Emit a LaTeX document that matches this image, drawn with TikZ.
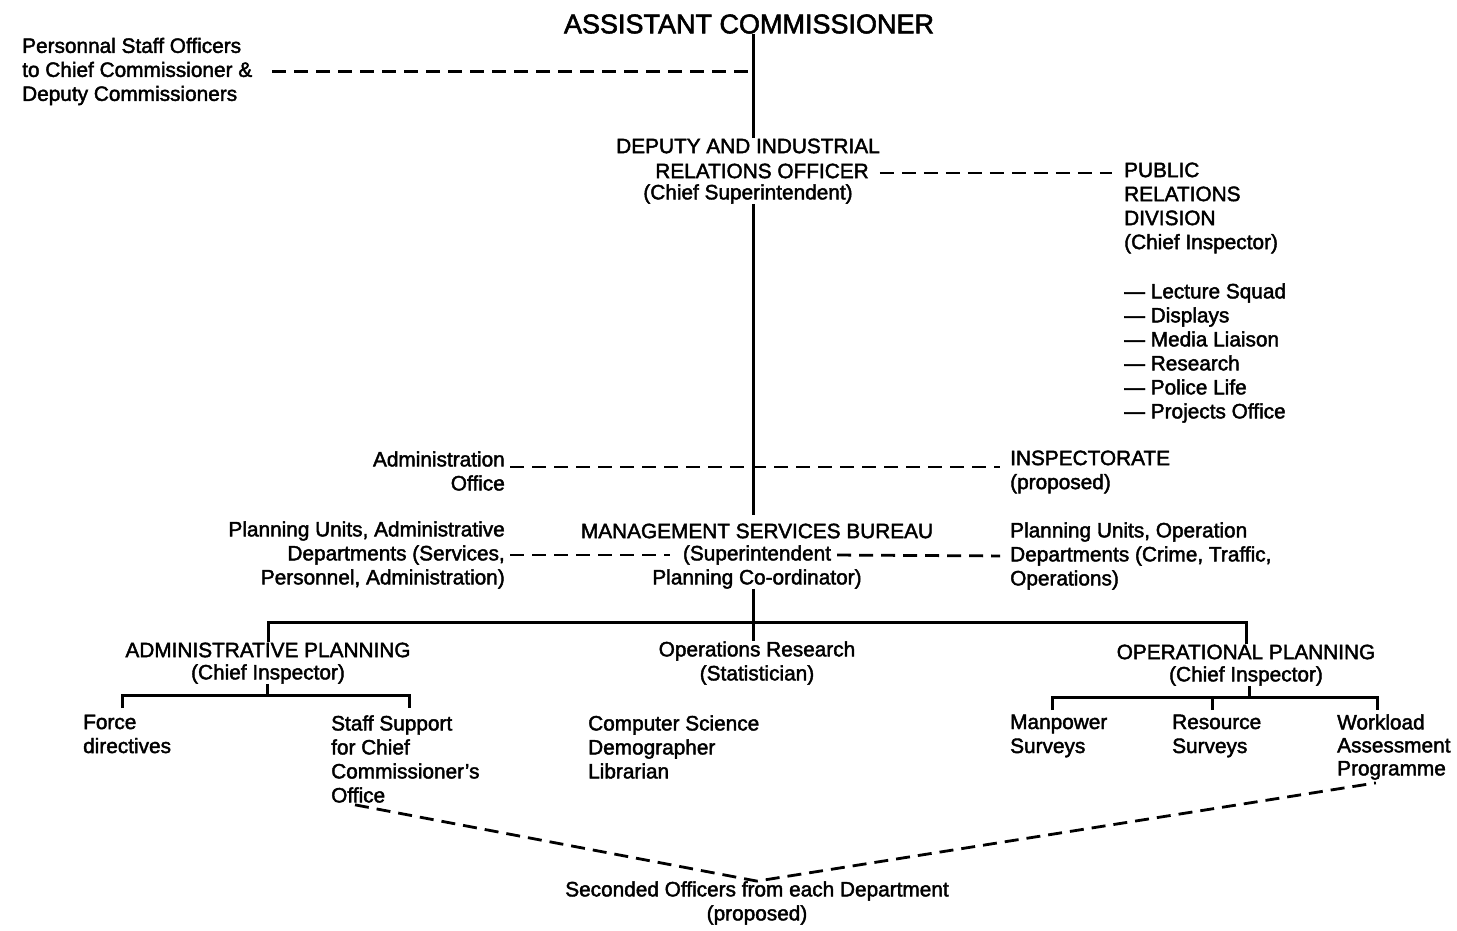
\documentclass[tikz,border=0pt]{standalone}
\usepackage{fontspec}
\setmainfont[FakeBold=2,AutoFakeBold=2]{Liberation Sans}
\usetikzlibrary{calc}
\tikzset{
  txt/.style={font=\fontsize{20.8}{24}\selectfont\bfseries, inner sep=0pt},
  lft/.style={txt, align=left, anchor=west},
  rgt/.style={txt, align=right, anchor=east},
  ctr/.style={txt, align=center},
  solidline/.style={line width=3pt},
  dashline/.style={line width=2.8pt, dash pattern=on 14pt off 8pt},
}
\begin{document}
\begin{tikzpicture}[x=1pt,y=-1pt]
\useasboundingbox (0,0) rectangle (1457,931);
\coordinate (spine) at (753,0);
% nodes
\node[ctr, font=\fontsize{27}{30}\selectfont\bfseries] (ac) at (749,24) {ASSISTANT COMMISSIONER};
\node[lft] (pso) at (22,71.5) {Personnal Staff Officers\\to Chief Commissioner \&\\Deputy Commissioners};
\node[ctr] (dep1) at (748,146) {DEPUTY AND INDUSTRIAL};
\node[ctr] (dep2) at (762,171) {RELATIONS OFFICER};
\node[ctr] (dep3) at (748,194) {(Chief Superintendent)};
\node[lft] (pr) at (1124,208) {PUBLIC\\RELATIONS\\DIVISION\\(Chief Inspector)};
\node[lft] (prl) at (1124,353) {— Lecture Squad\\— Displays\\— Media Liaison\\— Research\\— Police Life\\— Projects Office};
\node[rgt] (adm) at (505,471) {Administration\\Office};
\node[lft] (insp) at (1010,472) {INSPECTORATE\\(proposed)};
\node[rgt] (pua) at (505,555) {Planning Units, Administrative\\Departments (Services,\\Personnel, Administration)};
\node[ctr] (msb1) at (757,531) {MANAGEMENT SERVICES BUREAU};
\node[ctr] (msb2) at (757,555) {(Superintendent};
\node[ctr] (msb3) at (757,579) {Planning Co-ordinator)};
\node[lft] (puo) at (1010,556) {Planning Units, Operation\\Departments (Crime, Traffic,\\Operations)};
\node[ctr] (ap1) at (268,650) {ADMINISTRATIVE PLANNING};
\node[ctr] (ap2) at (268,674) {(Chief Inspector)};
\node[ctr] (or1) at (757,651) {Operations Research};
\node[ctr] (or2) at (757,675) {(Statistician)};
\node[ctr] (op1) at (1246,652) {OPERATIONAL PLANNING};
\node[ctr] (op2) at (1246,676) {(Chief Inspector)};
\node[lft] (fd) at (83,734) {Force\\directives};
\node[lft] (ss) at (331,759) {Staff Support\\for Chief\\Commissioner’s\\Office};
\node[lft] (cs) at (588,747) {Computer Science\\Demographer\\Librarian};
\node[lft] (mp) at (1010,736) {Manpower\\Surveys};
\node[lft] (rs) at (1172,736) {Resource\\Surveys};
\node[lft, font=\fontsize{20.8}{23}\selectfont\bfseries] (wl) at (1337,747) {Workload\\Assessment\\Programme};
\node[ctr] (sec) at (757,903) {Seconded Officers from each Department\\(proposed)};
% spine
\draw[solidline] (ac.south -| spine) -- (dep1.north -| spine);
\draw[solidline, shorten >=8pt] (dep3.south -| spine) -- (msb1.north -| spine);
\draw[solidline] (msb3.south -| spine) -- (or1.north -| spine);
% main bar
\coordinate (bar) at (0,622);
\draw[solidline] (ap1.north) -- (ap1.north |- bar) -- (op1.north |- bar) -- (op1.north);
% dashed links
\draw[dashline, shorten <=20pt] (pso.east) -- (pso.east -| spine);
\draw[dashline, shorten <=11pt, shorten >=12pt] ([yshift=-2pt]dep2.east) -- ([yshift=-2pt]dep2.east -| pr.west);
\draw[dashline, shorten <=5pt, shorten >=10pt] ([yshift=4pt]adm.east) -- ([yshift=4pt]adm.east -| insp.west);
\draw[dashline, shorten <=5pt, shorten >=13pt] (pua.east) -- (msb2.west);
\draw[dashline, shorten <=6pt, shorten >=10pt] (msb2.east) -- (puo.west);
% administrative planning branch
\coordinate (fdt) at (122,708);
\coordinate (sst) at (409,708);
\coordinate (apbar) at (267,695);
\draw[solidline] (fdt) |- (apbar) -| (sst);
\draw[solidline] (ap2.south -| apbar) -- (apbar);
% operational planning branch
\coordinate (mpt) at (1052,710);
\coordinate (rst) at (1212,710);
\coordinate (wlt) at (1377,710);
\coordinate (opbar) at (1249,697);
\draw[solidline] (mpt) |- (opbar) -| (wlt);
\draw[solidline] (rst) -- (rst |- opbar);
\draw[solidline] (op2.south -| opbar) -- (opbar);
% seconded officers
\draw[dashline] ($(ss.south west)+(24,2)$) -- (sec.north) -- ($(wl.south)+(-18,3)$);
\end{tikzpicture}
\end{document}
